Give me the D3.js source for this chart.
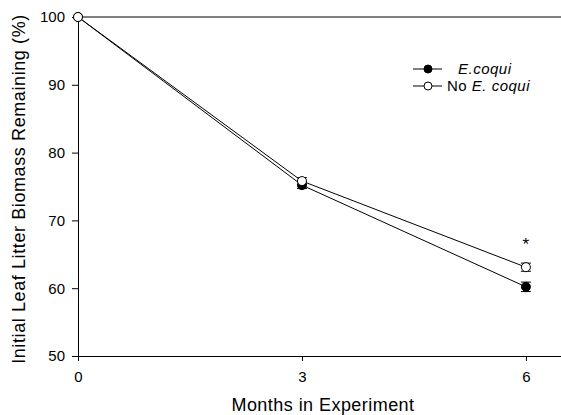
<!DOCTYPE html>
<html><head><meta charset="utf-8">
<script src="https://cdn.jsdelivr.net/npm/d3@7"></script>
<style>body{margin:0;background:#fff}svg{display:block;font-family:"Liberation Sans",Arial,sans-serif}</style>
</head><body><svg id="c" width="561" height="415"></svg>
<script>
const months = [0, 3, 6];
const coqui = [100, 75.2, 60.2];
const coquiErr = [0, 0.5, 0.7];
const noCoqui = [100, 75.8, 63.1];
const noCoquiErr = [0, 0.5, 0.6];
const xTicks = [0, 3, 6];
const yTicks = [50, 60, 70, 80, 90, 100];

const svg = d3.select("#c");
const x = d3.scaleLinear().domain([0, 6.47]).range([78, 561]);
const y = d3.scaleLinear().domain([50, 100]).range([356, 17]);

const xa = svg.append("g").attr("transform", `translate(0,${y(50)})`)
  .call(d3.axisBottom(x).tickValues(xTicks).tickFormat(d3.format("d")).tickSize(5).tickPadding(10).tickSizeOuter(0));
const ya = svg.append("g").attr("transform", `translate(${x(0)},0)`)
  .call(d3.axisLeft(y).tickValues(yTicks).tickFormat(d3.format("d")).tickSize(6).tickPadding(7).tickSizeOuter(0));
[xa, ya].forEach(a => {
  a.selectAll("text").attr("font-size", 15).attr("fill", "#000").attr("font-family", "Liberation Sans, Arial, sans-serif");
  a.selectAll("line,path").attr("stroke", "#000");
});
// top border
svg.append("line").attr("x1", x(0)).attr("x2", 561).attr("y1", y(100)).attr("y2", y(100)).attr("stroke", "#000");

const line = d3.line().x(d => x(d[0])).y(d => y(d[1]));
function series(vals, errs, fill) {
  const pts = months.map((m, i) => [m, vals[i], errs[i]]);
  svg.append("path").datum(pts).attr("d", line).attr("fill", "none").attr("stroke", "#000").attr("stroke-width", 1);
  const g = svg.append("g");
  pts.filter(p => p[2] > 0).forEach(p => {
    g.append("line").attr("x1", x(p[0])).attr("x2", x(p[0])).attr("y1", y(p[1] - p[2])).attr("y2", y(p[1] + p[2])).attr("stroke", "#000");
    [p[1] - p[2], p[1] + p[2]].forEach(v => g.append("line").attr("x1", x(p[0]) - 5).attr("x2", x(p[0]) + 5).attr("y1", y(v)).attr("y2", y(v)).attr("stroke", "#000"));
  });
  g.selectAll("circle").data(pts).join("circle").attr("cx", d => x(d[0])).attr("cy", d => y(d[1])).attr("r", 4.5)
    .attr("fill", fill).attr("stroke", "#000").attr("stroke-width", 1);
}
series(coqui, coquiErr, "#000");
series(noCoqui, noCoquiErr, "#fff");

// asterisk
svg.append("text").attr("x", x(6)).attr("y", y(noCoqui[2] + 2.6)).attr("text-anchor", "middle").attr("font-size", 17).attr("fill", "#000").text("*");

// legend
const lg = svg.append("g");
[[69, "#000"], [86, "#fff"]].forEach(([ly, f]) => {
  lg.append("line").attr("x1", 413).attr("x2", 442).attr("y1", ly).attr("y2", ly).attr("stroke", "#000");
  lg.append("circle").attr("cx", 428).attr("cy", ly).attr("r", 4).attr("fill", f).attr("stroke", "#000");
});
lg.append("text").attr("x", 458).attr("y", 74).attr("font-size", 15).attr("letter-spacing", "0.5px").attr("font-style", "italic").text("E.coqui");
const t2 = lg.append("text").attr("x", 447).attr("y", 91).attr("font-size", 15).attr("letter-spacing", "0.5px");
t2.append("tspan").text("No ");
t2.append("tspan").attr("font-style", "italic").text("E. coqui");

svg.append("text").attr("x", 323).attr("y", 411).attr("text-anchor", "middle").attr("font-size", 18).attr("letter-spacing", "0.45px").text("Months in Experiment");
svg.append("text").attr("transform", "translate(25,189) rotate(-90)").attr("text-anchor", "middle").attr("font-size", 18).attr("letter-spacing", "0.6px").text("Initial Leaf Litter Biomass Remaining (%)");
</script></body></html>
